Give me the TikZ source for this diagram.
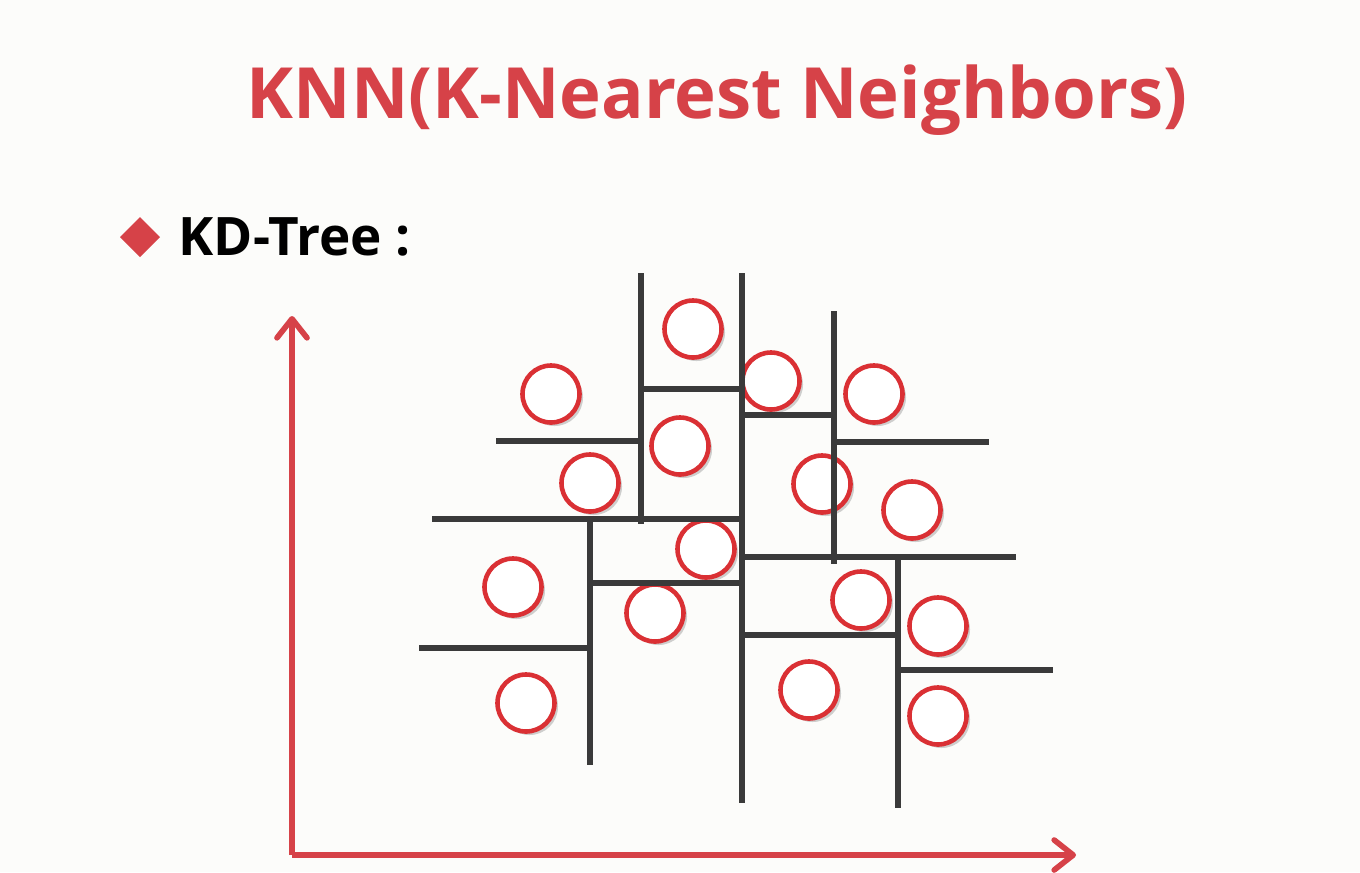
\documentclass[tikz,border=0pt]{standalone}
\usepackage{fontspec}
\setmainfont{Open Sans}
\usetikzlibrary{arrows.meta,shadows}
\definecolor{kred}{RGB}{214,66,72}
\definecolor{cred}{RGB}{218,48,52}
\definecolor{kgray}{RGB}{58,58,58}
\definecolor{bg}{RGB}{252,252,250}
\tikzset{
  pt/.style={circle,draw=cred,line width=1.3pt,fill=white,minimum size=0.57cm,inner sep=0pt,
    drop shadow={shadow xshift=0.035cm,shadow yshift=-0.035cm,opacity=0.3,fill=black!60}},
  split/.style={draw=kgray,line width=1.55pt,line cap=rect},
  axis/.style={draw=kred,line width=1.45pt,-{Straight Barb[length=0.19cm,width=0.3cm,line width=1.6pt,round]}}
}
\begin{document}
\begin{tikzpicture}[x=0.01cm,y=-0.01cm]
\fill[bg] (0,0) rectangle (1360,872);
\useasboundingbox (0,0) rectangle (1360,872);
% title
\node[anchor=base,text=kred,inner sep=0pt] (title) at (717,118)
  {\resizebox{9.4cm}{!}{\bfseries KNN(K-Nearest Neighbors)}};
% bullet
\fill[kred] (140,217) -- (160,237) -- (140,257) -- (120,237) -- cycle;
\node[anchor=base west,inner sep=0pt] (sub) at (178,255)
  {\resizebox{2.32cm}{!}{\bfseries KD-Tree :}};
% axes
\coordinate (o) at (292,855);
\coordinate (ytip) at (292,316);
\coordinate (xtip) at (1076,855);
\draw[axis] (o) -- (ytip);
\draw[axis] (o) -- (xtip);
% points
\node[pt] (c1) at (693,329) {};
\node[pt] (c2) at (551,394) {};
\node[pt] (c3) at (680,446) {};
\node[pt] (c4) at (590,483) {};
\node[pt] (c5) at (771,381) {};
\node[pt] (c6) at (874,394) {};
\node[pt] (c7) at (822,484) {};
\node[pt] (c8) at (912,510) {};
\node[pt] (c9) at (706,549) {};
\node[pt] (c10) at (513,587) {};
\node[pt] (c11) at (655,613) {};
\node[pt] (c12) at (526,703) {};
\node[pt] (c13) at (861,600) {};
\node[pt] (c14) at (938,626) {};
\node[pt] (c15) at (809,690) {};
\node[pt] (c16) at (938,716) {};
% splitting lines
\draw[split] (641,276) -- (641,521);
\draw[split] (742,276) -- (742,800);
\draw[split] (834,314) -- (834,561);
\draw[split] (590,519) -- (590,762);
\draw[split] (898,558) -- (898,805);
\draw[split] (641,389) -- (742,389);
\draw[split] (499,441) -- (641,441);
\draw[split] (435,519) -- (742,519);
\draw[split] (742,415) -- (834,415);
\draw[split] (834,442) -- (986,442);
\draw[split] (742,557) -- (1013,557);
\draw[split] (590,583) -- (742,583);
\draw[split] (422,648) -- (590,648);
\draw[split] (742,635) -- (898,635);
\draw[split] (898,670) -- (1050,670);
\end{tikzpicture}
\end{document}
